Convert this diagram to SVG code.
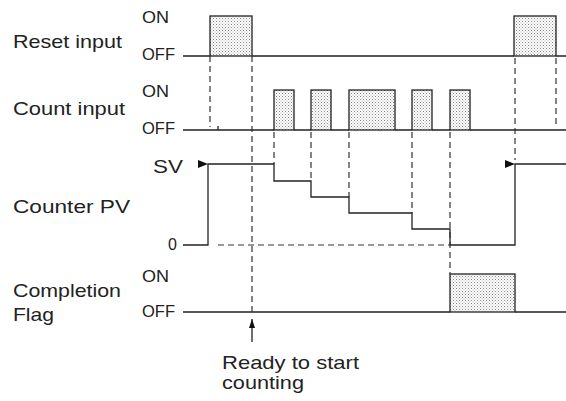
<svg xmlns="http://www.w3.org/2000/svg" width="566" height="401" viewBox="0 0 566 401">
<style>
.lbl{font-family:"Liberation Sans",Arial,sans-serif;font-size:19px;fill:#222}
.lv{font-family:"Liberation Sans",Arial,sans-serif;font-size:16px;fill:#222}
.sig{fill:none;stroke:#222;stroke-width:1.3}
.pulse{fill:url(#dots);stroke:#222;stroke-width:1.3}
.dash{fill:none;stroke:#333;stroke-width:1.2;stroke-dasharray:6,4}
</style>
<defs>
<pattern id="dots" width="3" height="3" patternUnits="userSpaceOnUse">
<rect width="3" height="3" fill="#fff"/>
<rect x="0" y="0" width="1" height="1" fill="#888"/>
<rect x="1.5" y="1.5" width="1" height="1" fill="#aaa"/>
</pattern>
<marker id="tri" viewBox="0 0 10 8" refX="10" refY="4" markerWidth="10" markerHeight="8" markerUnits="userSpaceOnUse" orient="auto">
<path d="M0,0 L10,4 L0,8 Z" fill="#111"/>
</marker>
<marker id="up" viewBox="0 0 9 6" refX="9" refY="3" markerWidth="9" markerHeight="6" markerUnits="userSpaceOnUse" orient="auto">
<path d="M0,0 L9,3 L0,6 Z" fill="#111"/>
</marker>
</defs>

<g id="labels">
<text class="lbl" x="13" y="48" textLength="109" lengthAdjust="spacingAndGlyphs">Reset input</text>
<text class="lbl" x="13" y="115" textLength="112" lengthAdjust="spacingAndGlyphs">Count input</text>
<text class="lbl" x="13" y="213" textLength="117" lengthAdjust="spacingAndGlyphs">Counter PV</text>
<text class="lbl" x="13" y="297" textLength="108" lengthAdjust="spacingAndGlyphs">Completion</text>
<text class="lbl" x="13" y="321" textLength="41" lengthAdjust="spacingAndGlyphs">Flag</text>
<text class="lv" x="142" y="23" textLength="27" lengthAdjust="spacingAndGlyphs">ON</text>
<text class="lv" x="142" y="60" textLength="33" lengthAdjust="spacingAndGlyphs">OFF</text>
<text class="lv" x="142" y="97" textLength="27" lengthAdjust="spacingAndGlyphs">ON</text>
<text class="lv" x="142" y="134" textLength="33" lengthAdjust="spacingAndGlyphs">OFF</text>
<text class="lbl" x="153" y="173" textLength="30" lengthAdjust="spacingAndGlyphs">SV</text>
<text class="lv" x="168" y="250">0</text>
<text class="lv" x="142" y="282" textLength="27" lengthAdjust="spacingAndGlyphs">ON</text>
<text class="lv" x="142" y="317" textLength="33" lengthAdjust="spacingAndGlyphs">OFF</text>
<text class="lbl" x="222" y="369" textLength="137" lengthAdjust="spacingAndGlyphs">Ready to start</text>
<text class="lbl" x="222" y="389" textLength="82" lengthAdjust="spacingAndGlyphs">counting</text>
</g>

<g id="reset-input">
<rect class="pulse" x="210" y="16" width="42" height="40"/>
<rect class="pulse" x="514" y="16" width="42" height="40"/>
<path class="sig" d="M183,56 H210 M252,56 H514 M556,56 H566"/>
</g>

<g id="count-input">
<rect class="pulse" x="274" y="90" width="20" height="40"/>
<rect class="pulse" x="311" y="90" width="20" height="40"/>
<rect class="pulse" x="349" y="90" width="46" height="40"/>
<rect class="pulse" x="412" y="90" width="20" height="40"/>
<rect class="pulse" x="450" y="90" width="20" height="40"/>
<path class="sig" d="M183,130 H274 M294,130 H311 M331,130 H349 M395,130 H412 M432,130 H450 M470,130 H566 M218,126 V130"/>
</g>

<g id="counter-pv">
<path class="sig" d="M183,245 H208 V164 H274 V181 H311 V197 H349 V213 H412 V229 H450 V245 H515 V164 H566"/>
</g>

<g id="completion-flag">
<rect class="pulse" x="450" y="274" width="65" height="38"/>
<path class="sig" d="M183,312 H450 M515,312 H566"/>
</g>

<g id="connectors">
<path class="dash" d="M210,56 V127"/>
<path class="dash" d="M252,56 V312"/>
<path class="dash" d="M274,132 V164"/>
<path class="dash" d="M311,132 V181"/>
<path class="dash" d="M349,132 V197"/>
<path class="dash" d="M412,132 V213"/>
<path class="dash" d="M450,132 V274"/>
<path class="dash" d="M515,58 V160"/>
<path class="dash" d="M556,58 V127"/>
<path class="dash" d="M218,245 H450"/>
<path d="M198,164 H208" stroke="none" fill="none" marker-end="url(#tri)"/>
<path d="M504,164 H515" stroke="none" fill="none" marker-end="url(#tri)"/>
<path d="M252,342 V319" stroke="#222" stroke-width="1.3" fill="none" marker-end="url(#up)"/>
</g>
</svg>
